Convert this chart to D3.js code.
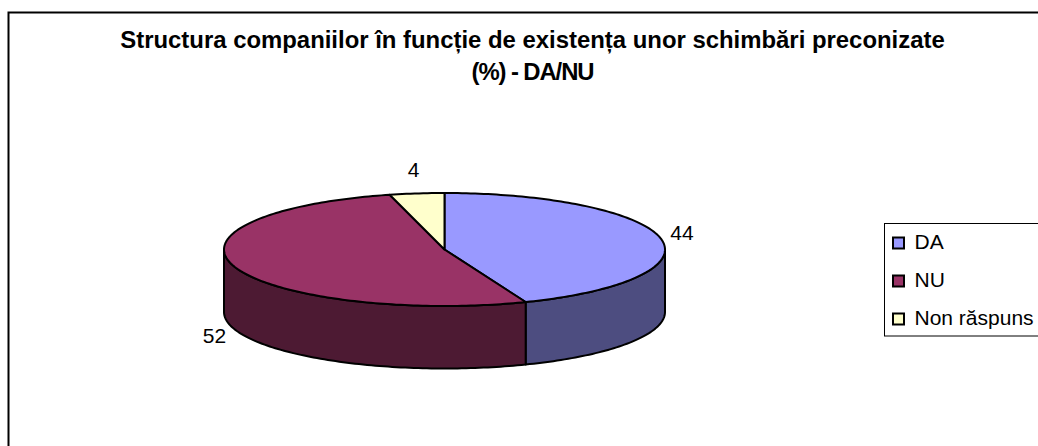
<!DOCTYPE html>
<html>
<head>
<meta charset="utf-8">
<script src="https://cdn.jsdelivr.net/npm/d3@7"></script>
<style>
html, body { margin: 0; padding: 0; background: #fff; }
svg { display: block; }
text { font-family: "Liberation Sans", Arial, sans-serif; fill: #000; }
</style>
</head>
<body>
<div id="chart"></div>
<script>
var w = 1038;
var h = 446;

var categories = ['DA', 'NU', 'Non răspuns'];
var values = [44, 52, 4];
var topColors = ['#9999ff', '#993366', '#ffffcc'];
var sideColors = ['#4d4d80', '#4d1a33', '#808066'];
var titleLines = ['Structura companiilor în funcție de existența unor schimbări preconizate', '(%) - DA/NU'];

var cx = 444.5, cy = 249.5, rx = 220.5, ry = 56.5, depth = 62.5;

var svg = d3.select('#chart').append('svg')
    .attr('width', w)
    .attr('height', h);

// chart frame, runs off the right and bottom of the picture
svg.append('path')
    .attr('d', 'M8.5,' + (h + 2) + 'V12.5H' + (w + 2))
    .attr('fill', 'none')
    .attr('stroke', '#000')
    .attr('stroke-width', 2);

svg.selectAll('text.title')
    .data(titleLines)
    .enter()
    .append('text')
    .attr('class', 'title')
    .attr('x', 532.5)
    .attr('y', function(d, i) { return 48 + i * 32; })
    .attr('text-anchor', 'middle')
    .attr('font-size', 23.9)
    .attr('font-weight', 'bold')
    .attr('letter-spacing', function(d, i) { return i ? -1.1 : 0; })
    .text(function(d) { return d; });

var slices = d3.pie().sort(null)(values);

// angle 0 is the top of the ellipse, going clockwise
function ex(a) { return cx + rx * Math.sin(a); }
function ey(a) { return cy - ry * Math.cos(a); }

function sample(a0, a1) {
    var n = Math.max(2, Math.ceil((a1 - a0) / 0.02));
    return d3.range(n + 1).map(function(i) { return a0 + (a1 - a0) * i / n; });
}

var line = d3.line();

function topPath(d) {
    var pts = sample(d.startAngle, d.endAngle).map(function(a) { return [ex(a), ey(a)]; });
    return line([[cx, cy]].concat(pts)) + 'Z';
}

function sidePath(d) {
    // only the front half of the rim can be seen
    var a0 = Math.max(d.startAngle, Math.PI / 2);
    var a1 = Math.min(d.endAngle, Math.PI * 1.5);
    if (a1 <= a0) return null;
    var angles = sample(a0, a1);
    var upper = angles.map(function(a) { return [ex(a), ey(a)]; });
    var lower = angles.slice().reverse().map(function(a) { return [ex(a), ey(a) + depth]; });
    return line(upper.concat(lower)) + 'Z';
}

svg.selectAll('path.side')
    .data(slices)
    .enter()
    .append('path')
    .attr('class', 'side')
    .attr('d', sidePath)
    .attr('fill', function(d, i) { return sideColors[i]; })
    .attr('stroke', '#000')
    .attr('stroke-width', 2)
    .attr('stroke-linejoin', 'round');

svg.selectAll('path.top')
    .data(slices)
    .enter()
    .append('path')
    .attr('class', 'top')
    .attr('d', topPath)
    .attr('fill', function(d, i) { return topColors[i]; })
    .attr('stroke', '#000')
    .attr('stroke-width', 2)
    .attr('stroke-linejoin', 'round');

// data labels
var labelPos = [[682, 240], [214.5, 343], [413.5, 177]];
svg.selectAll('text.label')
    .data(values)
    .enter()
    .append('text')
    .attr('class', 'label')
    .attr('x', function(d, i) { return labelPos[i][0]; })
    .attr('y', function(d, i) { return labelPos[i][1]; })
    .attr('text-anchor', 'middle')
    .attr('font-size', 21)
    .text(function(d) { return d; });

// legend
var legend = svg.append('g');
legend.append('rect')
    .attr('x', 884.5)
    .attr('y', 223.5)
    .attr('width', 170)
    .attr('height', 112.5)
    .attr('fill', '#fff')
    .attr('stroke', '#000');

var legendY = d3.scalePoint().domain(categories).range([243, 319]);

legend.selectAll('rect.key')
    .data(categories)
    .enter()
    .append('rect')
    .attr('class', 'key')
    .attr('x', 893)
    .attr('y', function(d) { return legendY(d) - 5.5; })
    .attr('width', 11)
    .attr('height', 11)
    .attr('fill', function(d, i) { return topColors[i]; })
    .attr('stroke', '#000')
    .attr('stroke-width', 2);

legend.selectAll('text.key')
    .data(categories)
    .enter()
    .append('text')
    .attr('class', 'key')
    .attr('x', 914.5)
    .attr('y', function(d) { return legendY(d) + 6; })
    .attr('font-size', 21)
    .text(function(d) { return d; });
</script>
</body>
</html>
